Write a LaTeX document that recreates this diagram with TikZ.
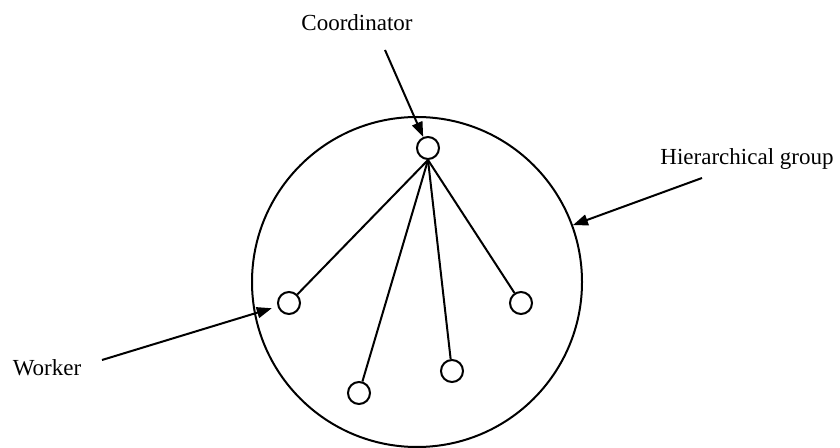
\documentclass[tikz,border=0pt]{standalone}
\usepackage{fontspec}
\setmainfont{Liberation Serif}
\usetikzlibrary{arrows.meta}
\tikzstyle{group} = [circle, minimum size=165pt, inner sep=0pt, draw=black, line width=1pt]
\tikzstyle{member} = [circle, minimum size=11pt, inner sep=0pt, draw=black, line width=1pt, fill=white]
\tikzstyle{label} = [font=\fontsize{11.5}{14}\selectfont, anchor=base]
\tikzstyle{link} = [line width=1pt]
\tikzstyle{arrow} = [line width=1pt,-{Triangle[length=7.5pt,width=5.5pt]}]

\begin{document}
\begin{tikzpicture}[x=0.5pt, y=-0.5pt]
\useasboundingbox (0,0) rectangle (840,448);

\node (hgroup) [group] at (417,282) {};
\node (coord) [member] at (428,148) {};
\node (w1) [member] at (289,303) {};
\node (w2) [member] at (359,393) {};
\node (w3) [member] at (452,371) {};
\node (w4) [member] at (521,303) {};

\node (lcoord) [label] at (357,31) {Coordinator};
\node (lworker) [label] at (47,376) {Worker};
\node (lgroup) [label] at (747,165) {Hierarchical group};

\coordinate (tcoord) at (385,50);
\coordinate (tworker) at (102,360);
\coordinate (tgroup) at (702,178);

\foreach \w in {w1,w2,w3,w4}
  \draw [link] (coord.south) -- (\w);

\draw [arrow] (tcoord) -- (coord);
\draw [arrow, shorten >=3pt] (tworker) -- (w1);
\draw [arrow] (tgroup) -- (hgroup);

\end{tikzpicture}
\end{document}
